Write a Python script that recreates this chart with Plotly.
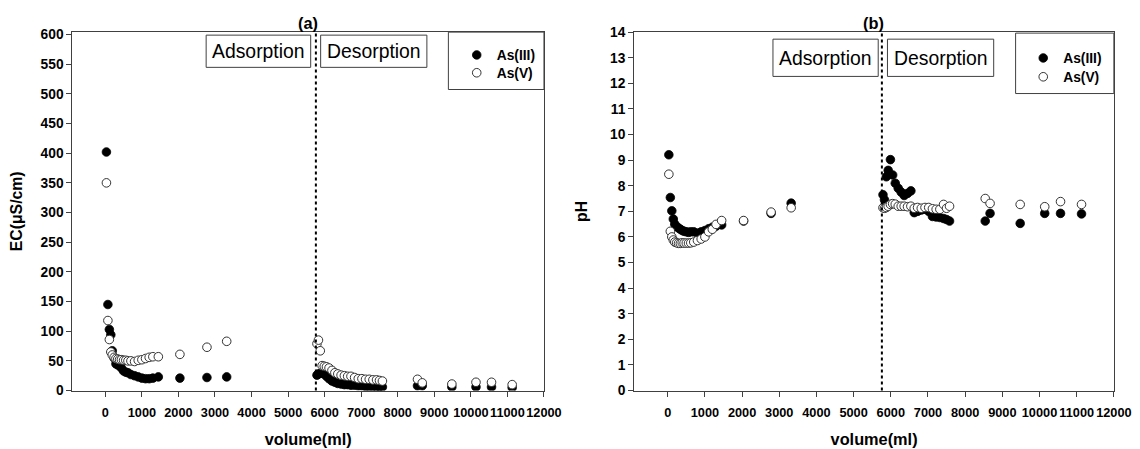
import plotly.graph_objects as go

# ---------------- data ----------------
vol_ads = [30, 70, 110, 150, 190, 240, 290, 340, 390, 440, 500, 560, 620, 700, 800,
           900, 1000, 1100, 1200, 1300, 1450, 2040, 2780, 3320]
vol_des = [5790, 5830, 5880, 5930, 5990, 6050, 6120, 6200, 6280, 6360, 6450, 6540,
           6630, 6720, 6820, 6920, 7020, 7120, 7220, 7320, 7420, 7500, 7580,
           8540, 8670, 9480, 10140, 10565, 11130]

ec_as3_ads = [402, 145, 103, 94, 67, 55, 45, 43, 42, 38, 33, 31, 30, 27, 25,
              23, 21, 20, 20, 21, 23, 21, 22, 23]
ec_as5_ads = [350, 118, 86, 65, 60, 56, 54, 53, 52, 52, 51, 51, 50, 50, 49,
              51, 52, 54, 56, 57, 57, 61, 73, 83]
ec_as3_des = [26, 28, 29, 30, 28, 24, 20, 16, 14, 12, 11, 10, 10, 9, 9, 8, 8, 7, 7, 7,
              6, 6, 6, 8, 8, 6, 6, 6, 5]
ec_as5_des = [79, 85, 67, 42, 41, 40, 38, 34, 30, 28, 26, 25, 24, 24, 22, 20, 20, 19,
              19, 18, 18, 17, 16, 19, 13, 11, 14, 14, 10]

ph_as3_ads = [9.21, 7.54, 7.02, 6.7, 6.5, 6.4, 6.35, 6.3, 6.25, 6.22, 6.2, 6.18, 6.2,
              6.2, 6.15, 6.2, 6.25, 6.32, 6.38, 6.42, 6.47, 6.62, 6.92, 7.32]
ph_as5_ads = [8.45, 6.22, 6.0, 5.88, 5.8, 5.77, 5.75, 5.75, 5.77, 5.76, 5.76, 5.76,
              5.77, 5.8, 5.86, 5.92, 6.0, 6.2, 6.3, 6.49, 6.64, 6.64, 6.97, 7.14]
ph_as3_des = [7.65, 7.45, 8.35, 8.6, 9.02, 8.42, 8.1, 7.9, 7.75, 7.62, 7.7, 7.8, 6.95,
              7.0, 7.05, 7.08, 7.0, 6.8, 6.78, 6.76, 6.72, 6.68, 6.62, 6.62, 6.92, 6.53,
              6.92, 6.92, 6.9]
ph_as5_des = [7.14, 7.12, 7.15, 7.2, 7.27, 7.3, 7.28, 7.2, 7.2, 7.2, 7.18, 7.2, 7.12,
              7.15, 7.12, 7.15, 7.15, 7.1, 7.08, 7.08, 7.27, 7.12, 7.2, 7.5, 7.31, 7.27,
              7.18, 7.38, 7.27]

switch_volume = 5760
x_ticks = [0, 1000, 2000, 3000, 4000, 5000, 6000, 7000, 8000, 9000, 10000, 11000, 12000]
ec_ticks = [0, 50, 100, 150, 200, 250, 300, 350, 400, 450, 500, 550, 600]
ph_ticks = [0, 1, 2, 3, 4, 5, 6, 7, 8, 9, 10, 11, 12, 13, 14]
series_names = ["As(III)", "As(V)"]

# ---------------- figure ----------------
W, H = 1140, 449
FONT = "Liberation Sans, Arial, sans-serif"
LINE = "#404040"
K = 1.02  # font compensation


def X(xr):
    """reference-pixel x -> paper fraction"""
    return (xr - 10) / 0.985 / W


def Y(yr):
    """reference-pixel y -> paper fraction"""
    return 1 - (yr - 16) / 0.96 / H


filled = dict(size=8.6, color="black", line=dict(color="black", width=0.8))
hollow = dict(size=8.6, color="white", line=dict(color="#333333", width=1))

fig = go.Figure()
panels = [
    ("x", "y", ec_as3_ads + ec_as3_des, ec_as5_ads + ec_as5_des, "legend", "legend2"),
    ("x2", "y2", ph_as3_ads + ph_as3_des, ph_as5_ads + ph_as5_des, "legend3", "legend4"),
]
for xa, ya, s3, s5, l3, l5 in panels:
    fig.add_trace(go.Scatter(x=vol_ads + vol_des, y=s3, mode="markers", marker=filled,
                             name=series_names[0], xaxis=xa, yaxis=ya, legend=l3))
    fig.add_trace(go.Scatter(x=vol_ads + vol_des, y=s5, mode="markers", marker=hollow,
                             name=series_names[1], xaxis=xa, yaxis=ya, legend=l5))

xtickfont = dict(family=FONT, size=12.5 * K, color="black", weight="bold")
ytickfont = dict(family=FONT, size=13.5 * K, color="black", weight="bold")
titlefont = dict(family=FONT, size=16 * K, color="black", weight="bold")


def xaxis(domain, anchor):
    return dict(domain=domain, anchor=anchor, range=[-900, 12000], tickmode="array",
                tickvals=x_ticks, ticktext=[str(v) for v in x_ticks], tickangle=0,
                ticks="outside", ticklen=5, tickcolor=LINE, showline=True, mirror=True,
                linecolor=LINE, linewidth=1.2, showgrid=False, zeroline=False,
                tickfont=xtickfont, ticklabelstandoff=5,
                title=dict(text="volume(ml)", font=titlefont, standoff=14))


def yaxis(domain, anchor, rng, ticks, title, standoff):
    return dict(domain=domain, anchor=anchor, range=rng, tickmode="array",
                tickvals=ticks, ticktext=[str(v) for v in ticks], ticks="outside",
                ticklen=5, tickcolor=LINE, showline=True, mirror=True, linecolor=LINE,
                linewidth=1.2, showgrid=False, zeroline=False, tickfont=ytickfont,
                title=dict(text=title, font=dict(family=FONT, size=15.5 * K, color="black",
                                                 weight="bold"), standoff=standoff))


legfont = dict(family=FONT, size=13.5 * K, weight="bold", color="black")


def leg(xr_marker, yr_item):
    return dict(x=X(xr_marker) - 18.6 / W, y=Y(yr_item) + 15.3 / H, xanchor="left",
                yanchor="top", bgcolor="rgba(0,0,0,0)", font=legfont, itemwidth=30)


ydom = [Y(389), Y(33)]
fig.update_layout(
    width=W, height=H, margin=dict(l=0, r=0, t=0, b=0),
    paper_bgcolor="white", plot_bgcolor="white",
    font=dict(family=FONT, color="black"),
    xaxis=xaxis([X(70.7), X(544.3)], "y"),
    yaxis=yaxis(ydom, "x", [0, 604], ec_ticks, "EC(μS/cm)", 22),
    xaxis2=xaxis([X(635), X(1116.7)], "y2"),
    yaxis2=yaxis(ydom, "x2", [0, 14], ph_ticks, "pH", 18),
    legend=leg(475, 55), legend2=leg(475, 72.7),
    legend3=leg(1044, 58), legend4=leg(1044, 76.7),
    showlegend=True,
)

shapes = []
annotations = []
for xref in ["x", "x2"]:
    shapes.append(dict(type="line", xref=xref, yref=xref.replace("x", "y") + " domain",
                       x0=switch_volume, x1=switch_volume, y0=0, y1=1,
                       line=dict(color="black", width=2, dash="dot")))

# label boxes (reference pixel positions)
boxes = [
    ("Adsorption", 205, 310, 36, 68),
    ("Desorption", 320, 426.7, 36, 68),
    ("Adsorption", 774.3, 880, 40, 77),
    ("Desorption", 889.3, 996, 40, 77),
]
for text, x0, x1, y0, y1 in boxes:
    shapes.append(dict(type="rect", xref="paper", yref="paper", x0=X(x0), x1=X(x1),
                       y0=Y(y1), y1=Y(y0), line=dict(color=LINE, width=1)))
    annotations.append(dict(text=text, xref="paper", yref="paper", x=X((x0 + x1) / 2),
                            y=Y((y0 + y1) / 2), showarrow=False, xanchor="center",
                            yanchor="middle",
                            font=dict(family=FONT, size=19 * K, color="black")))

# legend boxes
for x0, x1, y0, y1 in [(448.3, 544.3, 33, 90), (1018, 1116.7, 34, 94)]:
    shapes.append(dict(type="rect", xref="paper", yref="paper", x0=X(x0), x1=X(x1),
                       y0=Y(y1), y1=Y(y0), line=dict(color=LINE, width=1)))

# panel titles
for text, xc in [("(a)", 307), ("(b)", 875)]:
    annotations.append(dict(text=text, xref="paper", yref="paper", x=X(xc), y=Y(24),
                            showarrow=False, xanchor="center", yanchor="middle",
                            font=dict(family=FONT, size=16 * K, color="black",
                                      weight="bold")))

fig.update_layout(shapes=shapes, annotations=annotations)
fig.write_html("out.html", config={"displayModeBar": False})
